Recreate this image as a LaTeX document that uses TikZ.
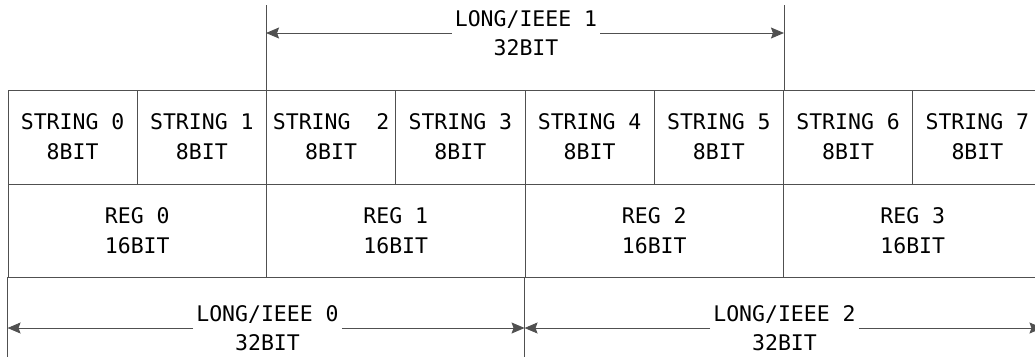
\documentclass[tikz,border=0pt]{standalone}
\usepackage{fontspec}
\usepackage{tikz}
\usetikzlibrary{calc}
\usetikzlibrary{arrows.meta}
\newfontfamily\cellfont{DejaVu Sans Mono}
\definecolor{linegray}{RGB}{80,80,80}
\tikzset{
  cellbox/.style={draw=linegray, line width=0.9pt, inner sep=0pt, align=center, font=\cellfont\fontsize{21.5}{30}\selectfont},
  dimlabel/.style={inner xsep=3pt, inner ysep=0pt, align=center, font=\cellfont\fontsize{21.5}{29}\selectfont},
  dimarrow/.style={draw=linegray, line width=0.9pt, -{Stealth[length=13pt, width=11pt, inset=2pt]}},
  extline/.style={draw=linegray, line width=0.9pt}
}

\begin{document}
\begin{tikzpicture}[x=1pt, y=-1pt]
        \useasboundingbox (0,0) rectangle (1035,360);
        \clip (0,0) rectangle (1035,360);

        % row1
        \foreach \i/\txt in {0/STRING 0, 1/STRING 1, 2/STRING~~2, 3/STRING 3, 4/STRING 4, 5/STRING 5, 6/STRING 6, 7/STRING 7}
            \node[cellbox, minimum width=129.25, minimum height=94] (s\i) at ({8+129.25*(\i+0.5)},137) {\txt\\8BIT};

        % row2
        \foreach \i in {0,...,3}
            \node[cellbox, minimum width=258.5, minimum height=93] (r\i) at ({8+258.5*(\i+0.5)},230.5) {REG \i\\16BIT};

        % top
        \draw[extline] (s2.north west) -- ++(0,-85);
        \draw[extline] (s5.north east) -- ++(0,-85);
        \node[dimlabel] (long1) at (526,33) {LONG/IEEE 1\\32BIT};
        \draw[dimarrow] (long1.west) -- (long1.west -| s2.north west);
        \draw[dimarrow] (long1.east) -- (long1.east -| s5.north east);

        % bottom
        \draw[extline] (r0.south west) -- ++(0,80);
        \draw[extline] (r2.south west) -- ++(0,80);
        \draw[extline] (r3.south east) -- ++(0,80);
        \node[dimlabel] (long0) at (267.5,328) {LONG/IEEE 0\\32BIT};
        \node[dimlabel] (long2) at (784.5,328) {LONG/IEEE 2\\32BIT};
        \draw[dimarrow] (long0.west) -- (long0.west -| r0.south west);
        \draw[dimarrow] (long0.east) -- (long0.east -| r2.south west);
        \draw[dimarrow] (long2.west) -- (long2.west -| r2.south west);
        \draw[dimarrow] (long2.east) -- (long2.east -| r3.south east);
\end{tikzpicture}
\end{document}
